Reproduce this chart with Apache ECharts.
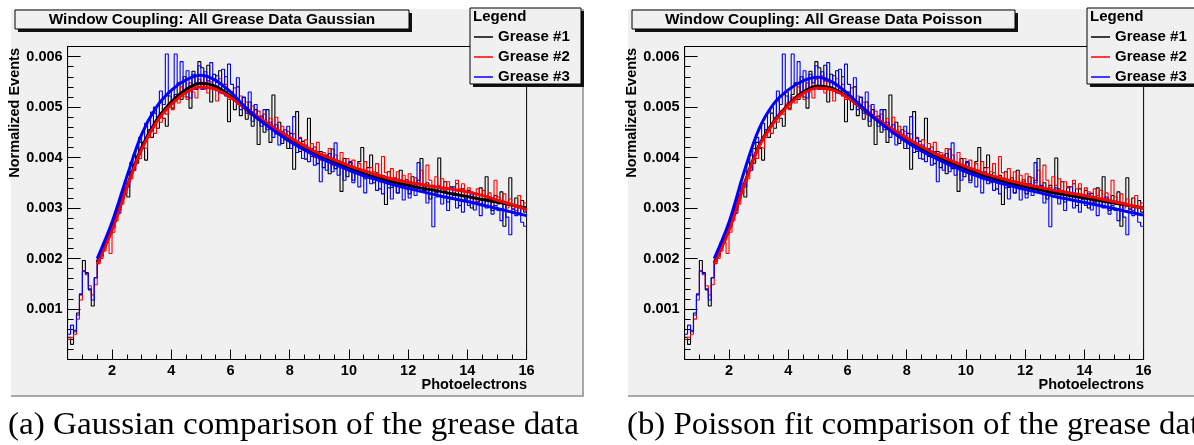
<!DOCTYPE html>
<html><head><meta charset="utf-8">
<script src="https://cdn.jsdelivr.net/npm/echarts@6/dist/echarts.min.js"></script>
<style>html,body{margin:0;padding:0;background:#fff}#c{width:1194px;height:445px}</style>
</head><body><div id="c"></div>
<script>
// ---------------- DATA ----------------
const BIN_START = 0.5, BIN_WIDTH = 0.1, X_MIN = 0.5, X_MAX = 16, Y_MAX = 0.0062;
const seriesNames = ['Grease #1', 'Grease #2', 'Grease #3'];
const seriesColors = ['#000000', '#ff0000', '#0000ff'];
const panelTitles = ['Window Coupling: All Grease Data Gaussian', 'Window Coupling: All Grease Data Poisson'];
const captions = ['(a) Gaussian comparison of the grease data', '(b) Poisson fit comparison of the grease data'];
const xAxisTitle = 'Photoelectrons';
const yAxisTitle = 'Normalized Events';
const legendTitle = 'Legend';
const xTickLabels = [2, 4, 6, 8, 10, 12, 14, 16];
const xMinorTicks = [1, 1.5, 2.5, 3, 3.5, 4.5, 5, 5.5, 6.5, 7, 7.5, 8.5, 9, 9.5, 10.5, 11, 11.5, 12.5, 13, 13.5, 14.5, 15, 15.5];
const yTickLabels = [0.001, 0.002, 0.003, 0.004, 0.005, 0.006];
const yMinorTicks = [0.0002,0.0004,0.0006,0.0008,0.0012,0.0014,0.0016,0.0018,0.0022,0.0024,0.0026,0.0028,0.0032,0.0034,0.0036,0.0038,0.0042,0.0044,0.0046,0.0048,0.0052,0.0054,0.0056,0.0058];

// histogram contents, one value per 0.1 PE bin from 0.5 to 16
const grease1 = [0.00044,0.00030,0.00058,0.00092,0.00128,0.00196,0.00172,0.00138,0.00106,0.00162,
0.00198,0.00205,0.00232,0.00236,0.00248,0.00262,0.00290,0.00302,0.00318,0.00335,
0.00322,0.00372,0.00405,0.00389,0.00430,0.00418,0.00395,0.00455,0.00440,0.00488,
0.00458,0.00512,0.00478,0.00462,0.00530,0.00498,0.00525,0.00548,0.00515,0.00560,
0.00520,0.00498,0.00571,0.00535,0.00590,0.00578,0.00536,0.00583,0.00510,0.00565,
0.00549,0.00572,0.00527,0.00560,0.00471,0.00530,0.00495,0.00540,0.00483,0.00519,
0.00476,0.00510,0.00462,0.00495,0.00426,0.00482,0.00450,0.00495,0.00430,0.00524,
0.00447,0.00470,0.00428,0.00455,0.00418,0.00448,0.00377,0.00491,0.00412,0.00432,
0.00397,0.00478,0.00402,0.00421,0.00388,0.00412,0.00380,0.00405,0.00368,0.00417,
0.00378,0.00392,0.00333,0.00398,0.00362,0.00390,0.00355,0.00372,0.00392,0.00420,
0.00358,0.00380,0.00405,0.00350,0.00370,0.00338,0.00365,0.00307,0.00372,0.00341,
0.00360,0.00330,0.00375,0.00342,0.00356,0.00328,0.00362,0.00340,0.00355,0.00398,
0.00335,0.00350,0.00318,0.00345,0.00330,0.00399,0.00338,0.00352,0.00312,0.00342,
0.00325,0.00348,0.00305,0.00338,0.00318,0.00335,0.00300,0.00329,0.00312,0.00340,
0.00305,0.00362,0.00318,0.00295,0.00325,0.00308,0.00332,0.00264,0.00310,0.00360,
0.00298,0.00320,0.00290,0.00315,0.00292];
const grease2 = [0.00040,0.00044,0.00050,0.00080,0.00118,0.00176,0.00168,0.00146,0.00128,0.00148,
0.00190,0.00200,0.00215,0.00232,0.00210,0.00252,0.00275,0.00296,0.00308,0.00330,
0.00350,0.00358,0.00375,0.00402,0.00398,0.00420,0.00418,0.00440,0.00452,0.00448,
0.00476,0.00470,0.00492,0.00486,0.00508,0.00495,0.00520,0.00508,0.00540,0.00520,
0.00515,0.00548,0.00530,0.00518,0.00555,0.00538,0.00562,0.00528,0.00550,0.00540,
0.00512,0.00556,0.00532,0.00545,0.00515,0.00530,0.00538,0.00505,0.00522,0.00498,
0.00510,0.00485,0.00502,0.00478,0.00492,0.00470,0.00486,0.00462,0.00478,0.00455,
0.00480,0.00448,0.00462,0.00440,0.00452,0.00432,0.00447,0.00425,0.00440,0.00418,
0.00435,0.00412,0.00428,0.00400,0.00430,0.00395,0.00410,0.00398,0.00418,0.00385,
0.00405,0.00392,0.00410,0.00378,0.00398,0.00382,0.00395,0.00370,0.00388,0.00375,
0.00392,0.00365,0.00380,0.00372,0.00388,0.00362,0.00402,0.00370,0.00355,0.00378,
0.00360,0.00372,0.00348,0.00365,0.00352,0.00368,0.00345,0.00360,0.00350,0.00375,
0.00342,0.00385,0.00355,0.00340,0.00362,0.00345,0.00358,0.00335,0.00352,0.00340,
0.00330,0.00355,0.00338,0.00348,0.00325,0.00340,0.00332,0.00312,0.00338,0.00325,
0.00335,0.00318,0.00330,0.00312,0.00355,0.00322,0.00310,0.00328,0.00300,0.00318,
0.00305,0.00295,0.00325,0.00300,0.00310];
const grease3 = [0.00050,0.00068,0.00055,0.00088,0.00130,0.00175,0.00170,0.00140,0.00118,0.00162,
0.00195,0.00212,0.00225,0.00245,0.00252,0.00268,0.00288,0.00290,0.00325,0.00348,
0.00342,0.00390,0.00375,0.00418,0.00440,0.00430,0.00468,0.00455,0.00490,0.00500,
0.00480,0.00532,0.00505,0.00605,0.00522,0.00508,0.00605,0.00545,0.00590,0.00530,
0.00572,0.00518,0.00565,0.00548,0.00582,0.00535,0.00570,0.00552,0.00588,0.00535,
0.00562,0.00528,0.00575,0.00522,0.00585,0.00545,0.00512,0.00558,0.00495,0.00520,
0.00488,0.00530,0.00472,0.00505,0.00480,0.00462,0.00495,0.00455,0.00470,0.00440,
0.00465,0.00425,0.00452,0.00435,0.00462,0.00418,0.00481,0.00410,0.00438,0.00398,
0.00425,0.00392,0.00418,0.00385,0.00412,0.00352,0.00395,0.00375,0.00408,0.00372,
0.00429,0.00365,0.00388,0.00355,0.00378,0.00392,0.00350,0.00375,0.00342,0.00368,
0.00330,0.00372,0.00348,0.00360,0.00335,0.00362,0.00328,0.00355,0.00340,0.00318,
0.00352,0.00330,0.00345,0.00316,0.00338,0.00320,0.00348,0.00325,0.00390,0.00332,
0.00345,0.00310,0.00335,0.00263,0.00322,0.00340,0.00308,0.00330,0.00295,0.00318,
0.00342,0.00300,0.00325,0.00292,0.00318,0.00305,0.00328,0.00296,0.00312,0.00285,
0.00318,0.00300,0.00322,0.00288,0.00305,0.00295,0.00275,0.00310,0.00282,0.00247,
0.00298,0.00285,0.00305,0.00272,0.00264];

// fitted curves, sampled every 0.5 PE
const fitX = [1.5,2,2.5,3,3.5,4,4.5,5,5.5,6,6.5,7,7.5,8,8.5,9,9.5,10,10.5,11,11.5,12,12.5,13,13.5,14,14.5,15,15.5,16];
const gaussFit1 = [0.00193,0.00260,0.00342,0.00420,0.00474,0.00510,0.00535,0.00547,0.00541,0.00522,0.00497,0.00474,0.00454,0.00436,0.00419,0.00404,0.00391,0.00379,0.00368,0.00359,0.00351,0.00345,0.00339,0.00334,0.00328,0.00323,0.00317,0.00312,0.00306,0.00300];
const gaussFit2 = [0.00189,0.00256,0.00340,0.00416,0.00470,0.00505,0.00529,0.00540,0.00535,0.00519,0.00498,0.00478,0.00458,0.00440,0.00423,0.00408,0.00396,0.00384,0.00374,0.00365,0.00357,0.00351,0.00346,0.00341,0.00337,0.00332,0.00325,0.00316,0.00307,0.00297];
const gaussFit3 = [0.00200,0.00272,0.00362,0.00446,0.00500,0.00533,0.00554,0.00563,0.00553,0.00530,0.00500,0.00474,0.00452,0.00432,0.00415,0.00400,0.00387,0.00375,0.00364,0.00355,0.00346,0.00339,0.00332,0.00325,0.00319,0.00313,0.00306,0.00299,0.00292,0.00285];
const poissonFit1 = [0.00191,0.00258,0.00345,0.00422,0.00470,0.00505,0.00530,0.00542,0.00537,0.00520,0.00497,0.00474,0.00453,0.00434,0.00417,0.00402,0.00389,0.00377,0.00366,0.00357,0.00349,0.00342,0.00336,0.00330,0.00325,0.00320,0.00315,0.00310,0.00305,0.00300];
const poissonFit2 = [0.00189,0.00256,0.00343,0.00420,0.00468,0.00503,0.00527,0.00538,0.00534,0.00519,0.00498,0.00477,0.00457,0.00439,0.00422,0.00407,0.00394,0.00382,0.00371,0.00362,0.00354,0.00347,0.00341,0.00335,0.00330,0.00325,0.00319,0.00313,0.00306,0.00299];
const poissonFit3 = [0.00200,0.00272,0.00370,0.00455,0.00506,0.00534,0.00552,0.00559,0.00549,0.00527,0.00500,0.00474,0.00451,0.00431,0.00413,0.00398,0.00384,0.00372,0.00361,0.00352,0.00344,0.00337,0.00330,0.00323,0.00317,0.00311,0.00305,0.00299,0.00292,0.00286];

// ---------------- CHART ----------------
const histograms = [grease1, grease2, grease3];
const fits = [[gaussFit1, gaussFit2, gaussFit3], [poissonFit1, poissonFit2, poissonFit3]];
const SANS = '"Liberation Sans", Arial, Helvetica, sans-serif';
const SERIF = '"Liberation Serif", "DejaVu Serif", serif';
const BG = '#f0f0f0';

function histPoints(vals) {
  const pts = vals.map((v, i) => [+(BIN_START + i * BIN_WIDTH).toFixed(2), v]);
  pts.push([+(BIN_START + vals.length * BIN_WIDTH).toFixed(2), vals[vals.length - 1]]);
  return pts;
}
function fitPoints(vals) { return vals.map((v, i) => [fitX[i], v]); }

const panelOffsets = [0, 617];
const grids = [], xAxes = [], yAxes = [], series = [], legends = [], graphics = [];

panelOffsets.forEach((off, p) => {
  grids.push({ left: 67.6 + off, top: 46.5, width: 459, height: 313, show: true,
    borderColor: '#000', borderWidth: 1, backgroundColor: 'transparent', containLabel: false });
  const labelStyle = { fontFamily: SANS, fontWeight: 'bold', fontSize: 14.5, color: '#000' };
  xAxes.push({ type: 'value', gridIndex: p, min: X_MIN, max: X_MAX, position: 'bottom',
    axisLine: { show: true, onZero: false, lineStyle: { color: '#000', width: 1 } },
    axisTick: { show: true, inside: true, length: 10, customValues: xTickLabels, lineStyle: { color: '#000', width: 1 } },
    axisLabel: Object.assign({ show: true, margin: 4, customValues: xTickLabels, formatter: v => String(v) }, labelStyle),
    splitLine: { show: false } });
  xAxes.push({ type: 'value', gridIndex: p, min: X_MIN, max: X_MAX, position: 'bottom',
    axisLine: { show: false, onZero: false },
    axisTick: { show: true, inside: true, length: 5, customValues: xMinorTicks, lineStyle: { color: '#000', width: 1 } },
    axisLabel: { show: false }, splitLine: { show: false } });
  yAxes.push({ type: 'value', gridIndex: p, min: 0, max: Y_MAX, position: 'left',
    axisLine: { show: true, onZero: false, lineStyle: { color: '#000', width: 1 } },
    axisTick: { show: true, inside: true, length: 13, customValues: yTickLabels, lineStyle: { color: '#000', width: 1 } },
    axisLabel: Object.assign({ show: true, margin: 5, customValues: yTickLabels, formatter: v => v.toFixed(3) }, labelStyle),
    splitLine: { show: false } });
  yAxes.push({ type: 'value', gridIndex: p, min: 0, max: Y_MAX, position: 'left',
    axisLine: { show: false, onZero: false },
    axisTick: { show: true, inside: true, length: 6, customValues: yMinorTicks, lineStyle: { color: '#000', width: 1 } },
    axisLabel: { show: false }, splitLine: { show: false } });

  histograms.forEach((h, k) => {
    series.push({ name: seriesNames[k], type: 'line', xAxisIndex: 2 * p, yAxisIndex: 2 * p,
      data: histPoints(h), step: 'end', symbol: 'none', color: seriesColors[k],
      lineStyle: { width: 1.1, color: seriesColors[k] }, z: 2, animation: false, clip: true });
  });
  fits[p].forEach((f, k) => {
    series.push({ name: seriesNames[k] + ' fit', type: 'line', xAxisIndex: 2 * p, yAxisIndex: 2 * p,
      data: fitPoints(f), smooth: 0.35, symbol: 'none', color: seriesColors[k],
      lineStyle: { width: 3, color: seriesColors[k] }, z: 3, animation: false, clip: true });
  });

  legends.push({ data: seriesNames.slice(), left: 474 + off, top: 27, orient: 'vertical', padding: 0,
    itemGap: 0, itemWidth: 19, itemHeight: 1.5, icon: 'rect', selectedMode: false, z: 6,
    textStyle: { fontFamily: SANS, fontWeight: 'bold', fontSize: 15, color: '#000', lineHeight: 20, padding: [0, 0, 0, 0] } });

  graphics.push({ type: 'rect', z: -10, shape: { x: 11 + off, y: 9, width: 573, height: 388 }, style: { fill: BG } });
  graphics.push({ type: 'rect', z: -9, shape: { x: 582 + off, y: 9, width: 2, height: 388 }, style: { fill: '#a8a8a8' } });
  graphics.push({ type: 'rect', z: -9, shape: { x: 11 + off, y: 395, width: 573, height: 2 }, style: { fill: '#a8a8a8' } });

  const tw = p === 0 ? 394 : 383;
  graphics.push({ type: 'rect', z: 5, shape: { x: 18 + off, y: 13, width: tw, height: 19 }, style: { fill: '#111' } });
  graphics.push({ type: 'rect', z: 5, shape: { x: 15 + off, y: 10, width: tw, height: 19 }, style: { fill: BG, stroke: '#000', lineWidth: 1 } });
  graphics.push({ type: 'text', z: 6, x: 15 + off + tw / 2, y: 20,
    style: { text: panelTitles[p], fontFamily: SANS, fontWeight: 'bold', fontSize: 15.4, fill: '#000', align: 'center', verticalAlign: 'middle' } });

  graphics.push({ type: 'rect', z: 5, shape: { x: 473 + off, y: 11, width: 111, height: 76 }, style: { fill: '#111' } });
  graphics.push({ type: 'rect', z: 5, shape: { x: 470 + off, y: 8, width: 111, height: 76 }, style: { fill: BG, stroke: '#000', lineWidth: 1 } });
  graphics.push({ type: 'text', z: 6, x: 473 + off, y: 17,
    style: { text: legendTitle, fontFamily: SANS, fontWeight: 'bold', fontSize: 15, fill: '#000', align: 'left', verticalAlign: 'middle' } });

  graphics.push({ type: 'text', z: 6, x: 527 + off, y: 385,
    style: { text: xAxisTitle, fontFamily: SANS, fontWeight: 'bold', fontSize: 14.5, fill: '#000', align: 'right', verticalAlign: 'middle' } });
  graphics.push({ type: 'text', z: 6, x: 15 + off, y: 48, rotation: Math.PI / 2,
    style: { text: yAxisTitle, fontFamily: SANS, fontWeight: 'bold', fontSize: 14.5, fill: '#000', align: 'right', verticalAlign: 'middle' } });

  graphics.push({ type: 'text', z: 6, x: 8 + off + (p === 1 ? 2 : 0), y: 426, scaleX: p === 1 ? 1.06 : 1.07,
    style: { text: captions[p], fontFamily: SERIF, fontSize: 31, fill: '#000', align: 'left', verticalAlign: 'middle' } });
});

const chart = echarts.init(document.getElementById('c'), null, { renderer: 'canvas' });
chart.setOption({
  backgroundColor: '#ffffff',
  animation: false,
  grid: grids, xAxis: xAxes, yAxis: yAxes, series: series, legend: legends,
  graphic: { elements: graphics }
});
</script></body></html>
